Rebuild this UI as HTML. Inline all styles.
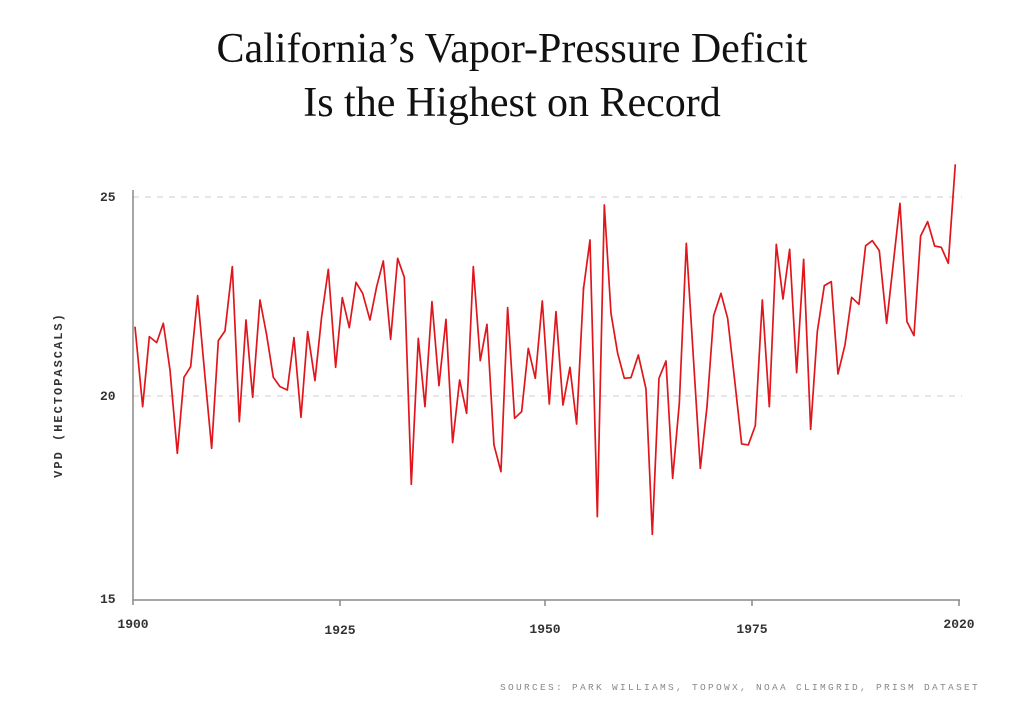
<!DOCTYPE html>
<html><head><style>
body{margin:0;background:#fff;}
svg text{font-family:"Liberation Mono",monospace;}
</style></head><body>
<svg width="1024" height="714" xmlns="http://www.w3.org/2000/svg">
<rect width="1024" height="714" fill="#fff"/>
<text x="512" y="62" text-anchor="middle" style="font-family:'Liberation Serif',serif" font-size="42" fill="#111">California’s Vapor-Pressure Deficit</text>
<text x="512" y="116" text-anchor="middle" style="font-family:'Liberation Serif',serif" font-size="42" fill="#111">Is the Highest on Record</text>
<line x1="133" y1="197" x2="962" y2="197" stroke="#ccc" stroke-dasharray="6,6"/>
<line x1="133" y1="396" x2="962" y2="396" stroke="#ccc" stroke-dasharray="6,6"/>
<line x1="133" y1="190" x2="133" y2="605" stroke="#888" stroke-width="1.5"/>
<line x1="133" y1="600" x2="960" y2="600" stroke="#888" stroke-width="1.5"/>
<g stroke="#888" stroke-width="1.5">
<line x1="340" y1="600" x2="340" y2="606"/><line x1="545" y1="600" x2="545" y2="606"/><line x1="752" y1="600" x2="752" y2="606"/><line x1="959" y1="600" x2="959" y2="606"/>
</g>
<g font-size="13" font-weight="bold" fill="#333">
<text x="100" y="201">25</text><text x="100" y="400">20</text><text x="100" y="603">15</text>
<text x="133" y="628" text-anchor="middle">1900</text>
<text x="340" y="634" text-anchor="middle">1925</text>
<text x="545" y="633" text-anchor="middle">1950</text>
<text x="752" y="633" text-anchor="middle">1975</text>
<text x="959" y="628" text-anchor="middle">2020</text>
</g>
<text transform="translate(62,395) rotate(-90)" text-anchor="middle" font-size="12" font-weight="bold" fill="#333" letter-spacing="2">VPD (HECTOPASCALS)</text>
<text x="980" y="690" text-anchor="end" font-size="9.5" fill="#888" letter-spacing="2.3">SOURCES: PARK WILLIAMS, TOPOWX, NOAA CLIMGRID, PRISM DATASET</text>
<g fill="none" stroke="#e0161c" stroke-width="1.7" stroke-linejoin="round">
<polyline transform="translate(90,150) scale(0.3333)" vector-effect="non-scaling-stroke" points="135,530 158,770 178,560 200,578 220,520 240,660 262,910 282,682 302,650 323,437 345,680 365,895 385,572 405,543 427,350 448,815 468,510 488,742 510,450 530,555 550,682 570,710 592,720 612,563 633,802 653,545 675,692 695,500 715,358 737,652 757,443 778,533 798,397 818,430 840,510 860,410 880,333 902,568 923,325 943,382 964,1003 985,565 1005,770 1026,455 1047,707 1068,508 1088,878 1109,690 1130,790 1150,350 1171,632 1191,523 1212,885 1233,965 1253,473 1274,805 1295,785 1315,595 1336,685 1357,453 1378,762 1398,485 1419,765 1440,652 1460,822 1481,410"/>
<polyline transform="translate(540,150) scale(0.3333)" vector-effect="non-scaling-stroke" points="130,420 150,270 172,1100 193,165 213,490 233,610 253,685 273,683 295,615 318,717 337,1153 357,685 378,633 398,985 418,760 439,280 460,620 481,955 501,770 521,497 543,430 563,505 584,690 605,882 625,885 646,827 667,450 688,770 709,283 729,447 749,298 770,668 791,328 812,838 832,545 853,407 874,395 894,672 915,585 935,442 957,463 977,287 997,272 1018,302 1040,520 1060,340 1080,160 1101,515 1122,557 1142,258 1163,215 1184,288 1204,292 1225,340 1246,43"/>
</g>
</svg>
</body></html>
